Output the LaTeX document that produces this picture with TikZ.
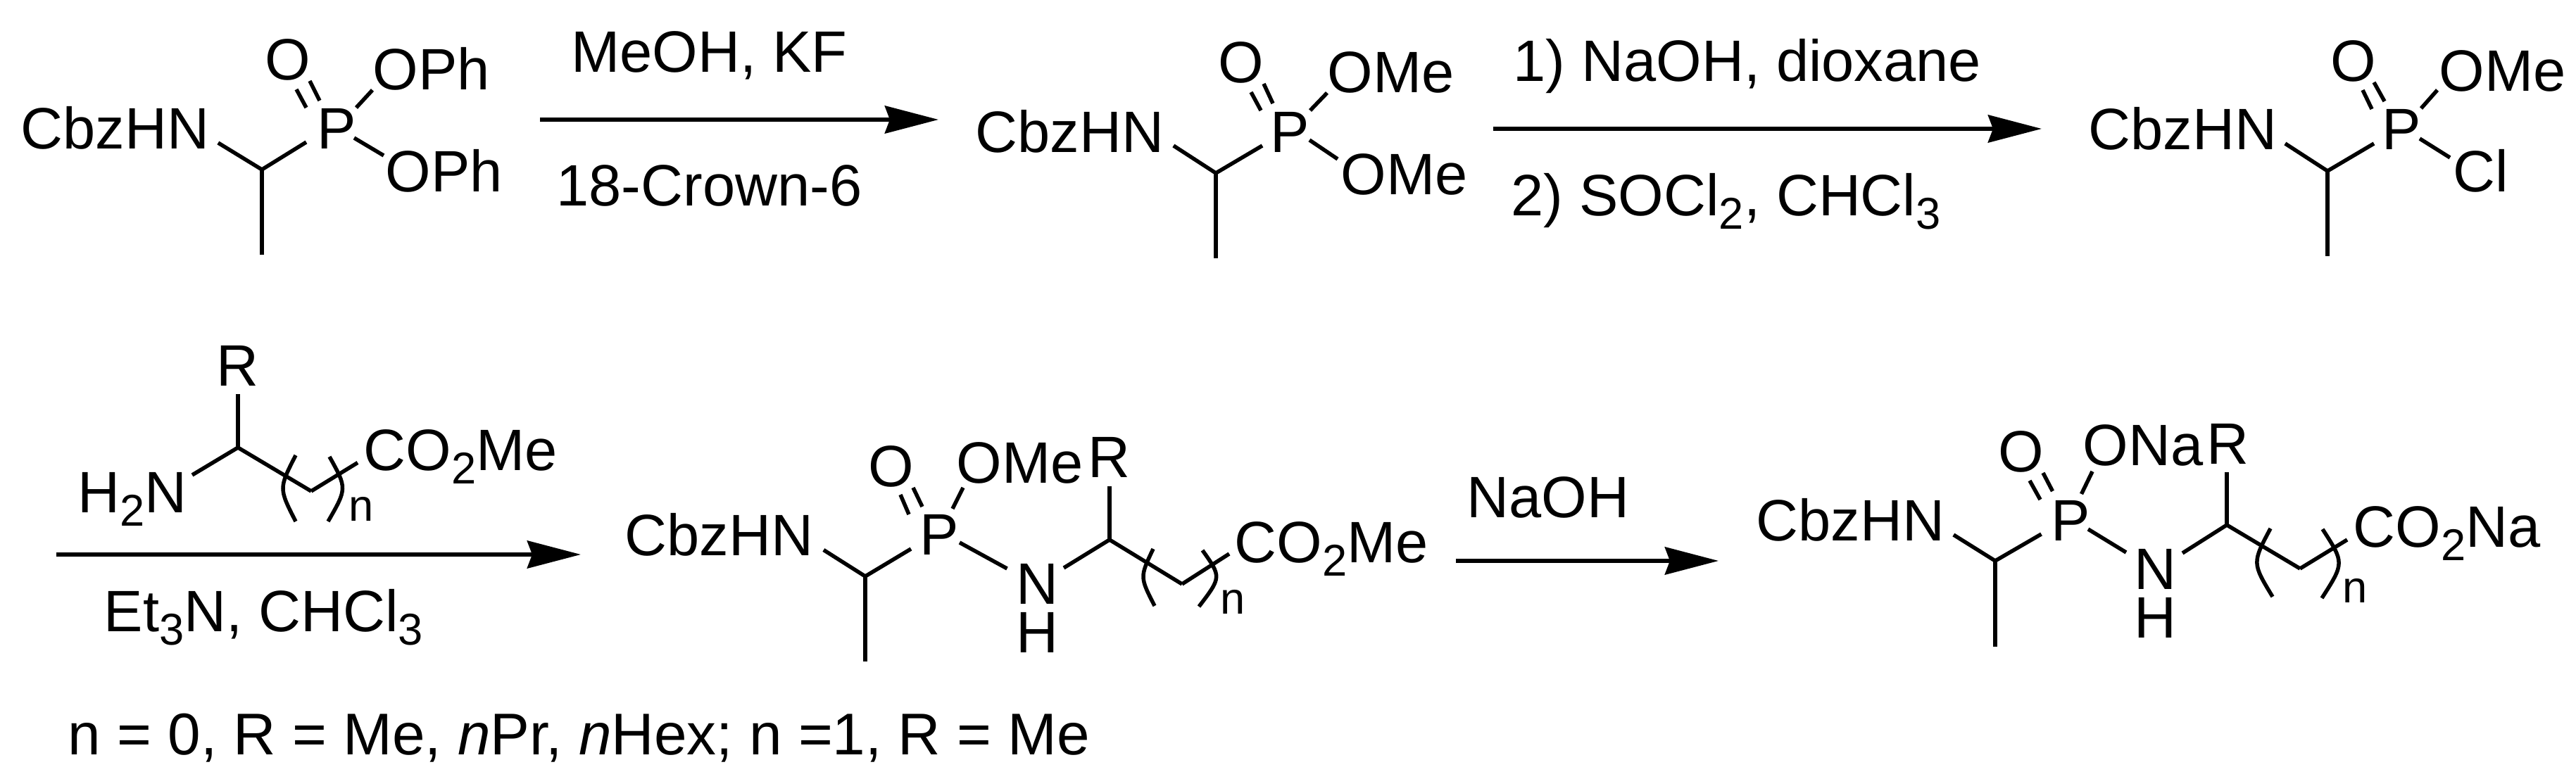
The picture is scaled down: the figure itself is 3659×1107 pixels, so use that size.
\documentclass[tikz,border=0pt]{standalone}
\usepackage{fontspec}
\setmainfont{Liberation Sans}
\usetikzlibrary{calc, arrows.meta}

\newcommand{\lowr}[1]{\raisebox{-0.22em}{\fontsize{18pt}{18pt}\selectfont #1}}

\begin{document}
\begin{tikzpicture}[x=0.01cm, y=-0.01cm]

    \tikzstyle{atom} = [inner sep=0, anchor=base west, font=\fontsize{23.6pt}{28pt}\selectfont];
    \tikzstyle{countnode} = [inner sep=0, anchor=base west, font=\fontsize{18pt}{18pt}\selectfont];
    \tikzstyle{bond} = [line width=0.055cm];
    \tikzstyle{arrow} = [line width=0.06cm, -{Stealth[length=0.76cm, width=0.39cm, inset=0.07cm]}];

    \useasboundingbox (0,0) rectangle (3659,1107);

    % Top - Phenyl ester
    \node[atom] (Cbz1) at (29,212) {CbzHN};
    \node[atom] (P1) at (450,212) {P};
    \node[atom] (O1) at (376,114) {O};
    \node[atom] (OPh1) at (529,128) {OPh};
    \node[atom] (OPh2) at (547,273) {OPh};
    \coordinate (C1) at (372,241);
    \coordinate (Me1) at (372,362);

    \draw [bond] ($(Cbz1.base east)+(12,-9)$) -- (C1);
    \draw [bond] (C1) -- ($(P1.base west)+(-15,-10)$);
    \draw [bond] (C1) -- (Me1);
    \draw [bond] ($(O1.base west)+(45,13)$) -- ($(P1.base west)+(-15,-59)$);
    \draw [bond] ($(O1.base west)+(64,1)$) -- ($(P1.base west)+(4,-69)$);
    \draw [bond] ($(P1.base west)+(56,-59)$) -- (OPh1.base west);
    \draw [bond] ($(P1.base west)+(53,-16)$) -- ($(OPh2.base west)+(-2,-52)$);
    % Top - Phenyl ester

    % Top - First arrow
    \coordinate (AS1) at (767,170);
    \coordinate (AE1) at (1333,170);
    \draw [arrow] (AS1) -- (AE1);
    \node[atom] (RA1) at (811,103) {MeOH, KF};
    \node[atom] (RB1) at (790,293) {18-Crown-6};
    % Top - First arrow

    % Top - Methyl ester
    \node[atom] (Cbz2) at (1385,217) {CbzHN};
    \node[atom] (P2) at (1804,217) {P};
    \node[atom] (O2) at (1730,118) {O};
    \node[atom] (OMe1) at (1885,132) {OMe};
    \node[atom] (OMe2) at (1904,277) {OMe};
    \coordinate (C2) at (1727,246);
    \coordinate (Me2) at (1727,367);

    \draw [bond] ($(Cbz2.base east)+(13,-10)$) -- (C2);
    \draw [bond] (C2) -- ($(P2.base west)+(-11,-10)$);
    \draw [bond] (C2) -- (Me2);
    \draw [bond] ($(O2.base west)+(47,13)$) -- ($(P2.base west)+(-13,-60)$);
    \draw [bond] ($(O2.base west)+(65,1)$) -- ($(P2.base west)+(4,-70)$);
    \draw [bond] ($(P2.base west)+(57,-60)$) -- (OMe1.base west);
    \draw [bond] ($(P2.base west)+(56,-18)$) -- ($(OMe2.base west)+(-4,-51)$);
    % Top - Methyl ester

    % Top - Second arrow
    \coordinate (AS2) at (2121,183);
    \coordinate (AE2) at (2900,183);
    \draw [arrow] (AS2) -- (AE2);
    \node[atom] (RA2) at (2149,116) {1) NaOH, dioxane};
    \node[atom] (RB2) at (2146,307) {2) SOCl\lowr{2}, CHCl\lowr{3}};
    % Top - Second arrow

    % Top - Chloride
    \node[atom] (Cbz3) at (2966,213) {CbzHN};
    \node[atom] (P3) at (3383,213) {P};
    \node[atom] (O3) at (3310,116) {O};
    \node[atom] (OMe3) at (3464,130) {OMe};
    \node[atom] (Cl3) at (3484,273) {Cl};
    \coordinate (C3) at (3306,243);
    \coordinate (Me3) at (3306,364);

    \draw [bond] ($(Cbz3.base east)+(11,-9)$) -- (C3);
    \draw [bond] (C3) -- ($(P3.base west)+(-11,-9)$);
    \draw [bond] (C3) -- (Me3);
    \draw [bond] ($(O3.base west)+(46,12)$) -- ($(P3.base west)+(-14,-58)$);
    \draw [bond] ($(O3.base west)+(62,1)$) -- ($(P3.base west)+(4,-69)$);
    \draw [bond] ($(P3.base west)+(56,-59)$) -- ($(OMe3.base west)+(-2,-2)$);
    \draw [bond] ($(P3.base west)+(54,-16)$) -- ($(Cl3.base west)+(-4,-49)$);
    % Top - Chloride

    % Bottom - Amine and third arrow
    \node[atom] (RN) at (307,549) {R};
    \node[atom] (NH2) at (110,729) {H\lowr{2}N};
    \node[atom] (COA) at (516,669) {CO\lowr{2}Me};
    \node[countnode] (NA) at (495,741) {n};
    \coordinate (CA) at (338,636);
    \coordinate (CB) at (442,698);

    \draw [bond] ($(RN.base west)+(31,11)$) -- (CA);
    \draw [bond] ($(NH2.base west)+(163,-54)$) -- (CA);
    \draw [bond] (CA) -- (CB);
    \draw [bond] (CB) -- ($(COA.base west)+(-8,-11.5)$);
    \draw [bond] (420,647) .. controls (396,694) .. (420,741);
    \draw [bond] (468,649) .. controls (493,694) .. (466,741);

    \coordinate (AS3) at (80,788);
    \coordinate (AE3) at (825,788);
    \draw [arrow] (AS3) -- (AE3);
    \node[atom] (RB3) at (147,898) {Et\lowr{3}N, CHCl\lowr{3}};
    \node[atom, font=\fontsize{23.8pt}{28pt}\selectfont] (RC3) at (96,1073) {n = 0, R = Me, \textit{n}Pr, \textit{n}Hex; n =1, R = Me};
    % Bottom - Amine and third arrow

    % Bottom - Amide ester
    \node[atom] (Cbz4) at (887,790) {CbzHN};
    \node[atom] (P4) at (1306,789) {P};
    \node[atom] (O4) at (1233,692) {O};
    \node[atom] (OMe4) at (1358,687) {OMe};
    \node[atom] (R4) at (1545,679) {R};
    \node[atom] (N4) at (1443,859) {N};
    \node[atom] (H4) at (1443,928) {H};
    \node[atom] (CO4) at (1753,800) {CO\lowr{2}Me};
    \node[countnode] (N4C) at (1733,873) {n};
    \coordinate (C4) at (1229,819);
    \coordinate (Me4) at (1229,940);
    \coordinate (CC4) at (1576,767);
    \coordinate (CD4) at (1679,830);

    \draw [bond] ($(Cbz4.base east)+(14,-8.5)$) -- (C4);
    \draw [bond] (C4) -- ($(P4.base west)+(-12,-9)$);
    \draw [bond] (C4) -- (Me4);
    \draw [bond] ($(O4.base west)+(46,11)$) -- ($(P4.base west)+(-15,-58)$);
    \draw [bond] ($(O4.base west)+(64,1)$) -- ($(P4.base west)+(4,-69)$);
    \draw [bond] ($(P4.base west)+(47,-66)$) -- ($(OMe4.base west)+(10,6)$);
    \draw [bond] ($(P4.base west)+(57,-18)$) -- ($(N4.base west)+(-12.5,-51)$);
    \draw [bond] ($(N4.base west)+(68,-52)$) -- (CC4);
    \draw [bond] ($(R4.base west)+(31,12)$) -- (CC4);
    \draw [bond] (CC4) -- (CD4);
    \draw [bond] (CD4) -- ($(CO4.base west)+(-7,-13)$);
    \draw [bond] (1638,780) .. controls (1619,820) .. (1640,861);
    \draw [bond] (1708,782) .. controls (1735,820) .. (1703,862);
    % Bottom - Amide ester

    % Bottom - Fourth arrow
    \coordinate (AS4) at (2068,797);
    \coordinate (AE4) at (2441,797);
    \draw [arrow] (AS4) -- (AE4);
    \node[atom] (RA4) at (2083,736) {NaOH};
    % Bottom - Fourth arrow

    % Bottom - Sodium salt
    \node[atom] (Cbz5) at (2494,769) {CbzHN};
    \node[atom] (P5) at (2913,769) {P};
    \node[atom] (O5) at (2838,671) {O};
    \node[atom] (ONa5) at (2958,662) {ONa};
    \node[atom] (R5) at (3134,660) {R};
    \node[atom] (N5) at (3031,838) {N};
    \node[atom] (H5) at (3031,907) {H};
    \node[atom] (CO5) at (3342,778) {CO\lowr{2}Na};
    \node[countnode] (N5C) at (3327,857) {n};
    \coordinate (C5) at (2834,797);
    \coordinate (Me5) at (2834,919);
    \coordinate (CC5) at (3163,746);
    \coordinate (CD5) at (3267,808);

    \draw [bond] ($(Cbz5.base east)+(12,-9)$) -- (C5);
    \draw [bond] (C5) -- ($(P5.base west)+(-13.5,-10)$);
    \draw [bond] (C5) -- (Me5);
    \draw [bond] ($(O5.base west)+(45,12)$) -- ($(P5.base west)+(-15,-59)$);
    \draw [bond] ($(O5.base west)+(64,1)$) -- ($(P5.base west)+(2.5,-71)$);
    \draw [bond] ($(P5.base west)+(43.5,-67)$) -- ($(ONa5.base west)+(14,8)$);
    \draw [bond] ($(P5.base west)+(53,-17)$) -- ($(N5.base west)+(-11,-53)$);
    \draw [bond] ($(N5.base west)+(69,-52)$) -- (CC5);
    \draw [bond] ($(R5.base west)+(29,11)$) -- (CC5);
    \draw [bond] (CC5) -- (CD5);
    \draw [bond] (CD5) -- ($(CO5.base west)+(-8,-11)$);
    \draw [bond] (3225,751) .. controls (3199,800) .. (3228,848);
    \draw [bond] (3299,752) .. controls (3330,800) .. (3298,850);
    % Bottom - Sodium salt

\end{tikzpicture}
\end{document}
